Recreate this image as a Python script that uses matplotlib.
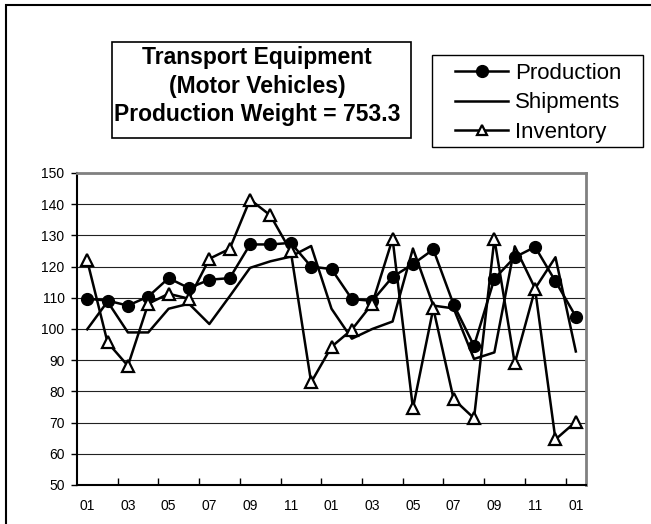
import matplotlib.pyplot as plt
from matplotlib.patches import Rectangle
from matplotlib.lines import Line2D

plt.rcParams['font.family'] = ['Liberation Sans', 'DejaVu Sans']

months = ["01", "02", "03", "04", "05", "06", "07", "08", "09", "10", "11", "12",
          "01", "02", "03", "04", "05", "06", "07", "08", "09", "10", "11", "12", "01"]

production = [109.7, 109.1, 107.5, 110.4, 116.3, 113.1, 115.8, 116.3, 127.1, 127.1,
              127.6, 120.0, 119.2, 109.6, 109.0, 116.7, 120.8, 125.5, 107.8, 94.6,
              116.1, 123.0, 126.3, 115.3, 104.0]
shipments = [99.9, 108.8, 98.9, 98.9, 106.5, 108.1, 101.6, 110.5, 119.6, 121.7,
             123.2, 126.6, 106.5, 96.9, 100.0, 102.4, 125.8, 107.5, 106.6, 90.4,
             92.5, 126.5, 113.0, 123.0, 92.8]
inventory = [122.0, 95.7, 88.2, 108.1, 111.3, 109.7, 122.5, 125.7, 141.5, 136.4,
             124.9, 82.9, 94.3, 99.8, 108.1, 128.9, 74.6, 106.6, 77.5, 71.4,
             128.9, 89.0, 112.8, 64.6, 70.3]

title_lines = "Transport Equipment\n(Motor Vehicles)\nProduction Weight = 753.3"

W, H = 651, 524
fig = plt.figure(figsize=(W / 100, H / 100), dpi=100)
ax = fig.add_axes([77 / W, 1 - 485 / H, (586 - 77) / W, (485 - 173) / H])

x = list(range(len(months)))
ax.plot(x, production, color='black', lw=1.8, marker='o', markersize=8.5,
        markerfacecolor='black', markeredgecolor='black', zorder=3)
ax.plot(x, shipments, color='black', lw=1.8, zorder=3)
ax.plot(x, inventory, color='black', lw=1.8, marker='^', markersize=8,
        markerfacecolor='white', markeredgecolor='black', markeredgewidth=1.6, zorder=3)

ax.set_xlim(-0.5, len(months) - 0.5)
ax.set_ylim(50, 150)
ax.set_yticks(range(50, 151, 10))
ax.set_xticks(x[::2])
ax.set_xticklabels(months[::2])
ax.set_xticks([i + 1.5 for i in range(0, len(months) - 2, 2)], minor=True)
ax.tick_params(axis='x', which='major', length=0, pad=10, labelsize=10)
ax.tick_params(axis='x', which='minor', direction='in', length=5, width=1)
ax.tick_params(axis='y', direction='out', length=4, width=1, pad=5, labelsize=10)

ax.grid(axis='y', color='#222222', lw=0.8)
ax.set_axisbelow(True)
for side in ['left', 'bottom']:
    ax.spines[side].set_color('black')
    ax.spines[side].set_linewidth(1.5)
for side in ['top', 'right']:
    ax.spines[side].set_color('#808080')
    ax.spines[side].set_linewidth(2)

# title box
fig.add_artist(Rectangle((112 / W, 1 - 138 / H), (411 - 112) / W, (138 - 42) / H,
                         transform=fig.transFigure, fill=False, ec='black', lw=1.2))
fig.text(257 / W, 1 - 86 / H, title_lines, ha='center', va='center',
         fontsize=16.5, fontweight='bold', linespacing=1.3)

# legend: frame drawn by hand, entries placed inside
fig.add_artist(Rectangle((432 / W, 1 - 147 / H), (643 - 432) / W, (147 - 55) / H,
                         transform=fig.transFigure, fill=False, ec='black', lw=1.0))
handles = [
    Line2D([], [], color='black', lw=1.8, marker='o', markersize=8.5, markerfacecolor='black'),
    Line2D([], [], color='black', lw=1.8),
    Line2D([], [], color='black', lw=1.8, marker='^', markersize=7,
           markerfacecolor='white', markeredgewidth=1.6),
]
leg = fig.legend(handles, ["Production", "Shipments", "Inventory"],
                 loc='upper left', bbox_to_anchor=(455 / W, 1 - 63 / H),
                 prop={'size': 16}, frameon=False, handlelength=2.4,
                 handletextpad=0.3, labelspacing=0.38, borderpad=0, borderaxespad=0)

# outer border (cut off on right and bottom)
fig.add_artist(Rectangle((6 / W, -0.1), 1.0, 1 - 5 / H + 0.1,
                         transform=fig.transFigure, fill=False, ec='black', lw=1.5))

fig.savefig('out.png', dpi=100)
